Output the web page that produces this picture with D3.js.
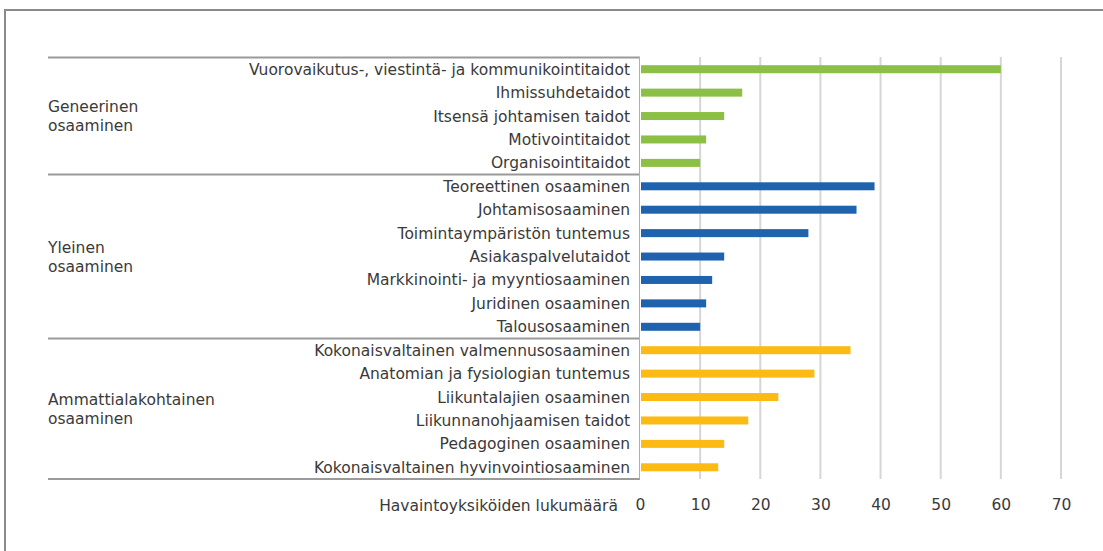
<!DOCTYPE html>
<html>
<head>
<meta charset="utf-8">
<script src="https://cdn.jsdelivr.net/npm/d3@7"></script>
<style>
  body { margin: 0; background: #fff; }
  text { font-family: "DejaVu Sans", sans-serif; fill: #3a3a3a; }
</style>
</head>
<body>
<div id="app"></div>
<script>
(function (d3) {

  'use strict'

  const groups = [
    ['Geneerinen', 'osaaminen'],
    ['Yleinen', 'osaaminen'],
    ['Ammattialakohtainen', 'osaaminen']
  ]
  const genericLabels = ['Vuorovaikutus-, viestintä- ja kommunikointitaidot', 'Ihmissuhdetaidot', 'Itsensä johtamisen taidot', 'Motivointitaidot', 'Organisointitaidot']
  const genericValues = [60, 17, 14, 11, 10]
  const generalLabels = ['Teoreettinen osaaminen', 'Johtamisosaaminen', 'Toimintaympäristön tuntemus', 'Asiakaspalvelutaidot', 'Markkinointi- ja myyntiosaaminen', 'Juridinen osaaminen', 'Talousosaaminen']
  const generalValues = [39, 36, 28, 14, 12, 11, 10]
  const fieldLabels = ['Kokonaisvaltainen valmennusosaaminen', 'Anatomian ja fysiologian tuntemus', 'Liikuntalajien osaaminen', 'Liikunnanohjaamisen taidot', 'Pedagoginen osaaminen', 'Kokonaisvaltainen hyvinvointiosaaminen']
  const fieldValues = [35, 29, 23, 18, 14, 13]
  const ticks = [0, 10, 20, 30, 40, 50, 60, 70]
  const axisTitle = 'Havaintoyksiköiden lukumäärä'
  const colors = ['#8bbf45', '#1f63ae', '#fbbb14']

  const w = 1103
  const h = 551
  const fs = '15.5px'

  const rows = []
  ;[[genericLabels, genericValues], [generalLabels, generalValues], [fieldLabels, fieldValues]].forEach((g, gi) => {
    g[0].forEach((l, i) => rows.push({ label: l, value: g[1][i], group: gi }))
  })

  const x = d3.scaleLinear().domain([0, 70]).range([640, 1061])
  const y = d3.scaleBand().domain(rows.map(d => d.label)).range([57.5, 479])

  const svg = d3.select('#app')
  .append('svg')
  .attr('width', w)
  .attr('height', h)

  // outer frame
  svg.append('rect')
  .attr('x', 5).attr('y', 10)
  .attr('width', w + 20).attr('height', h + 20)
  .attr('fill', 'none')
  .attr('stroke', '#8a8a8a')
  .attr('stroke-width', 2)

  // gridlines
  svg.append('g')
  .selectAll('line')
  .data(ticks.slice(1))
  .enter()
  .append('line')
  .attr('x1', d => x(d)).attr('x2', d => x(d))
  .attr('y1', 57).attr('y2', 479)
  .attr('stroke', '#d6d6d6')
  .attr('stroke-width', 2)

  // group boundaries
  const bounds = [0]
  let n = 0
  ;[genericLabels, generalLabels, fieldLabels].forEach(a => { n += a.length; bounds.push(n) })
  const yEdge = i => i < rows.length ? y(rows[i].label) : y.range()[1]

  svg.append('g')
  .selectAll('line')
  .data(bounds)
  .enter()
  .append('line')
  .attr('x1', 48).attr('x2', 640)
  .attr('y1', d => yEdge(d)).attr('y2', d => yEdge(d))
  .attr('stroke', '#9a9a9a')
  .attr('stroke-width', 2)

  svg.append('line')
  .attr('x1', 639.5).attr('x2', 639.5)
  .attr('y1', 57).attr('y2', 479)
  .attr('stroke', '#b0b0b0')
  .attr('stroke-width', 1)

  // group labels
  svg.append('g')
  .selectAll('text')
  .data(groups)
  .enter()
  .append('text')
  .attr('x', 48)
  .attr('y', (d, i) => (yEdge(bounds[i]) + yEdge(bounds[i + 1])) / 2 - 4)
  .style('font-size', fs)
  .each(function (d) {
    d3.select(this).selectAll('tspan')
    .data(d)
    .enter()
    .append('tspan')
    .attr('x', 48)
    .attr('dy', (t, j) => j === 0 ? 0 : 19)
    .text(t => t)
  })

  // bars
  svg.append('g')
  .selectAll('rect')
  .data(rows)
  .enter()
  .append('rect')
  .attr('x', x(0) + 1)
  .attr('y', d => y(d.label) + y.bandwidth() / 2 - 4)
  .attr('width', d => x(d.value) - x(0) - 1)
  .attr('height', 8)
  .attr('fill', d => colors[d.group])

  // category labels
  svg.append('g')
  .selectAll('text')
  .data(rows)
  .enter()
  .append('text')
  .attr('x', 630)
  .attr('y', d => y(d.label) + y.bandwidth() / 2 + 5.5)
  .attr('text-anchor', 'end')
  .style('font-size', fs)
  .text(d => d.label)

  // x axis
  const axis = svg.append('g')
  .attr('transform', 'translate(0,499)')
  .call(d3.axisBottom(x).tickValues(ticks).tickSize(0).tickPadding(0))
  axis.select('.domain').remove()
  axis.selectAll('text')
  .attr('dy', '0.71em')
  .style('font-size', fs)
  .style('font-family', '"DejaVu Sans", sans-serif')
  .attr('fill', '#3a3a3a')

  svg.append('text')
  .attr('x', 618)
  .attr('y', 510.5)
  .attr('text-anchor', 'end')
  .style('font-size', fs)
  .text(axisTitle)

}(d3))
</script>
</body>
</html>
